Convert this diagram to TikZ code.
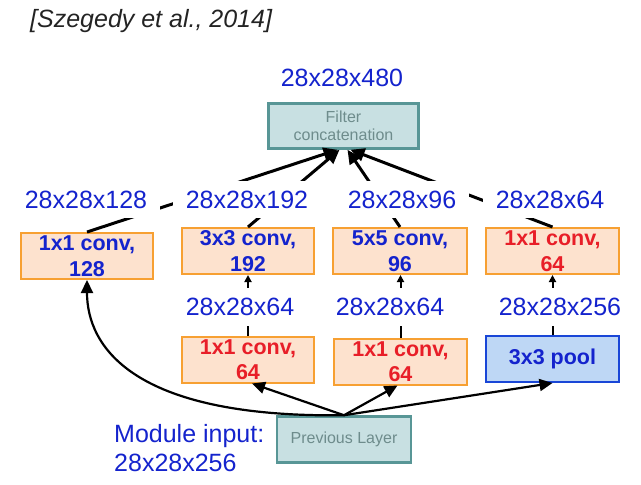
\documentclass[tikz,border=0pt]{standalone}
\usepackage{fontspec}
\setmainfont{Liberation Sans}
\usetikzlibrary{arrows.meta}
\definecolor{lblue}{RGB}{20,35,205}
\definecolor{lred}{RGB}{232,30,40}
\definecolor{oborder}{RGB}{247,160,50}
\definecolor{ofill}{RGB}{253,226,206}
\definecolor{tfill}{RGB}{200,224,226}
\definecolor{tborder}{RGB}{88,150,150}
\definecolor{tgray}{RGB}{110,140,140}
\definecolor{pfill}{RGB}{190,215,245}
\definecolor{pborder}{RGB}{25,70,215}
\definecolor{titlegray}{RGB}{35,35,35}
\begin{document}
\begin{tikzpicture}[x=1pt,y=-1pt,
  convbox/.style={draw=oborder,fill=ofill,line width=2pt,minimum width=132pt,minimum height=46pt,inner sep=0pt,align=center,font=\bfseries\fontsize{21.5}{25.5}\selectfont},
  poolbox/.style={draw=pborder,fill=pfill,line width=2pt,minimum width=132pt,minimum height=46pt,inner sep=0pt,align=center,text=lblue,font=\bfseries\fontsize{21.5}{25.5}\selectfont},
  tealbox/.style={draw=tborder,fill=tfill,line width=2.5pt,minimum width=150pt,minimum height=45pt,inner sep=0pt,align=center,text=tgray,font=\fontsize{16}{18.5}\selectfont},
  dimlabel/.style={fill=white,text=lblue,font=\fontsize{25}{30}\selectfont,inner xsep=13pt,inner ysep=10pt},
  toparrow/.style={line width=3pt,-{Triangle[length=14pt,width=13pt]}},
  botarrow/.style={line width=2.2pt,-{Triangle[length=13pt,width=12pt]}},
  vertarrow/.style={line width=2pt,-{Triangle[length=7pt,width=7pt]}}
]
\useasboundingbox (0,0) rectangle (641,485);

% boxes
\node[tealbox] (concat) at (343.5,126) {Filter\\concatenation};
\node[convbox,text=lblue] (c128) at (87,256) {1x1 conv,\\128};
\node[convbox,text=lblue] (c192) at (248,251) {3x3 conv,\\192};
\node[convbox,text=lblue,minimum width=134pt] (c96) at (400,251) {5x5 conv,\\96};
\node[convbox,text=lred,minimum width=133pt] (c64) at (552.5,251) {1x1 conv,\\64};
\node[convbox,text=lred] (r1) at (248,359.5) {1x1 conv,\\64};
\node[convbox,text=lred,minimum width=133pt] (r2) at (400.5,361.5) {1x1 conv,\\64};
\node[poolbox,minimum width=133pt] (pool) at (552.5,359) {3x3 pool};
\node[tealbox,minimum width=134pt,minimum height=46pt,font=\fontsize{16}{18}\selectfont] (prev) at (344,439.5) {Previous Layer};

% connectors to concatenation
\draw[toparrow] (c128.north) -- ([xshift=-6pt]concat.south);
\draw[toparrow] (c192.north) -- ([xshift=-4pt]concat.south);
\draw[toparrow] (c96.north) -- ([xshift=4pt]concat.south);
\draw[toparrow] (c64.north) -- ([xshift=7pt]concat.south);

% vertical connectors
\draw[vertarrow] (r1.north) -- (r1.north |- c192.south);
\draw[vertarrow] (r2.north) -- (r2.north |- c96.south);
\draw[vertarrow] (pool.north) -- (pool.north |- c64.south);

% connectors from previous layer
\coordinate (src) at (prev.north);
\draw[botarrow] (src) .. controls (130,418) and (87,345) .. (c128.south);
\draw[botarrow] (src) -- ([xshift=4pt]r1.south);
\draw[botarrow] (src) -- ([xshift=-3pt]r2.south);
\draw[botarrow] (src) -- (pool.south);

% dimension labels
\node[dimlabel] (l480) at (342,78) {28x28x480};
\node[dimlabel] (l128) at (86,199.5) {28x28x128};
\node[dimlabel] (l192) at (247,199.5) {28x28x192};
\node[dimlabel] (l96) at (402,199.5) {28x28x96};
\node[dimlabel] (l64) at (550,199.5) {28x28x64};
\node[dimlabel] (m64a) at (240,307) {28x28x64};
\node[dimlabel] (m64b) at (390,307) {28x28x64};
\node[dimlabel] (m256) at (560,307) {28x28x256};

% module input
\node[anchor=west,align=left,text=lblue,font=\fontsize{25}{29}\selectfont,inner sep=0pt] (modin) at (114,448) {Module input:\\28x28x256};

% title
\node[anchor=base west,text=titlegray,font=\itshape\fontsize{25}{30}\selectfont,inner sep=0pt] (title) at (30,27) {[Szegedy et al., 2014]};
\end{tikzpicture}
\end{document}
